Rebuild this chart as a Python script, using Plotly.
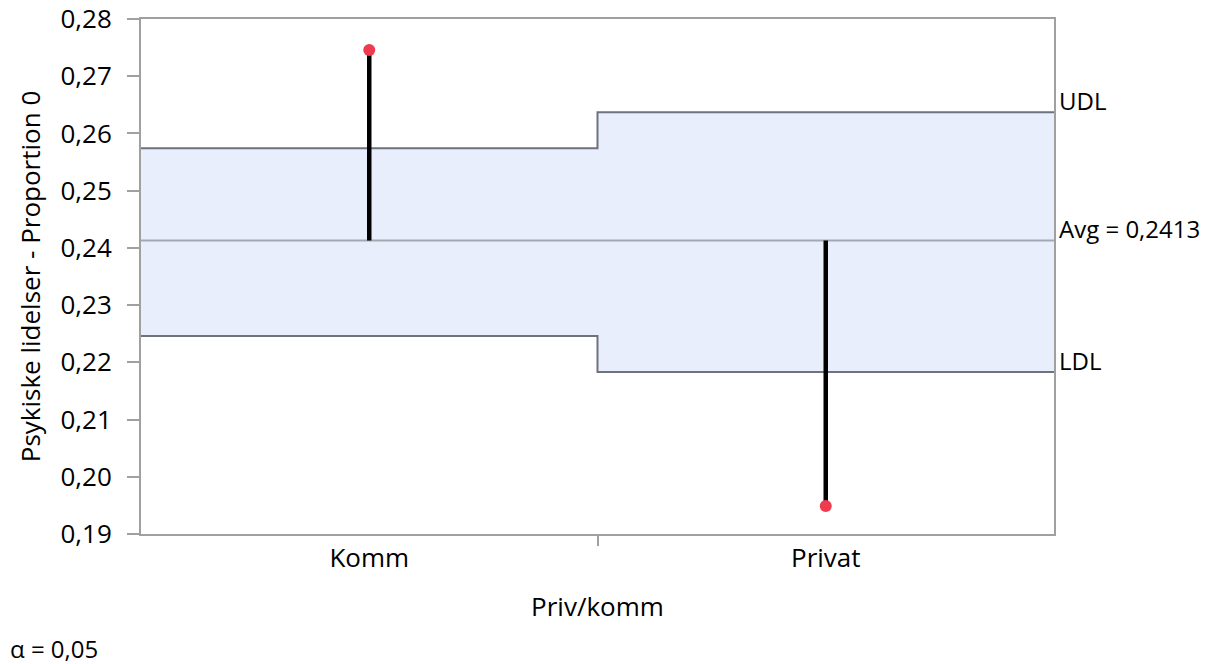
import plotly.graph_objects as go

categories = ["Komm", "Privat"]
proportion = [0.2746, 0.1949]
udl = [0.2574, 0.2637]
ldl = [0.2246, 0.2183]
avg = 0.2413
y_ticks = [0.19, 0.20, 0.21, 0.22, 0.23, 0.24, 0.25, 0.26, 0.27, 0.28]

font = "Open Sans, Noto Sans, sans-serif"
centers = [i + 0.5 for i in range(len(categories))]
step_x = [0, 1, 2]

fig = go.Figure()
fig.add_trace(go.Scatter(x=step_x, y=ldl + [ldl[-1]], mode="lines", line_shape="hv",
                         line=dict(color="#6e727c", width=2), hoverinfo="skip", showlegend=False))
fig.add_trace(go.Scatter(x=step_x, y=udl + [udl[-1]], mode="lines", line_shape="hv",
                         fill="tonexty", fillcolor="#e8eefc",
                         line=dict(color="#6e727c", width=2), hoverinfo="skip", showlegend=False))
fig.add_trace(go.Scatter(x=[0, 2], y=[avg, avg], mode="lines",
                         line=dict(color="#a4a8b2", width=2), hoverinfo="skip", showlegend=False))
for c, v in zip(centers, proportion):
    fig.add_trace(go.Scatter(x=[c, c], y=[avg, v], mode="lines",
                             line=dict(color="black", width=4.5), showlegend=False, hoverinfo="skip"))
fig.add_trace(go.Scatter(x=centers, y=proportion, mode="markers",
                         marker=dict(color="#f03a4f", size=12), showlegend=False))

ann_font = dict(size=24, color="black", family=font)
fig.add_annotation(x=1, xref="paper", xanchor="left", xshift=3, y=udl[-1], yanchor="middle",
                   yshift=12, text="UDL", showarrow=False, font=ann_font)
fig.add_annotation(x=1, xref="paper", xanchor="left", xshift=3, y=avg, yanchor="middle",
                   yshift=12, text="Avg = 0,2413", showarrow=False, font=ann_font)
fig.add_annotation(x=1, xref="paper", xanchor="left", xshift=3, y=ldl[-1], yanchor="middle",
                   yshift=12, text="LDL", showarrow=False, font=ann_font)
fig.add_annotation(x=0, xref="paper", xanchor="left", xshift=-133, y=0, yref="paper",
                   yanchor="middle", yshift=-114, text="α = 0,05", showarrow=False,
                   font=ann_font)

fig.update_layout(
    width=1216, height=664,
    margin=dict(l=133, r=170, t=11, b=138),
    plot_bgcolor="white", paper_bgcolor="white",
    separators=", ",
    font=dict(family=font, color="black", size=26),
    xaxis=dict(range=[0, 2], tickvals=centers, ticktext=categories, ticks="",
               automargin=False,
               showgrid=False, zeroline=False, showline=True, linecolor="#a0a0a0", linewidth=2,
               mirror=True, tickfont=dict(size=26), ticklabelstandoff=0,
               minor=dict(tickmode="array", tickvals=[1], ticks="outside", ticklen=10,
                          tickcolor="#a0a0a0", tickwidth=1.5, showgrid=False),
               title=dict(text="Priv/komm", font=dict(size=26), standoff=24)),
    yaxis=dict(range=[0.19, 0.28], tickvals=y_ticks, tickformat=".2f", ticks="outside",
               automargin=False, ticklabeloverflow="allow",
               ticklen=12, tickcolor="#a0a0a0", tickwidth=2, ticklabelstandoff=10,
               showgrid=False, zeroline=False, showline=True, linecolor="#a0a0a0", linewidth=2,
               mirror=True, tickfont=dict(size=26),
               title=dict(text="Psykiske lidelser - Proportion 0", font=dict(size=26), standoff=12)),
)

fig.write_html("out.html")
